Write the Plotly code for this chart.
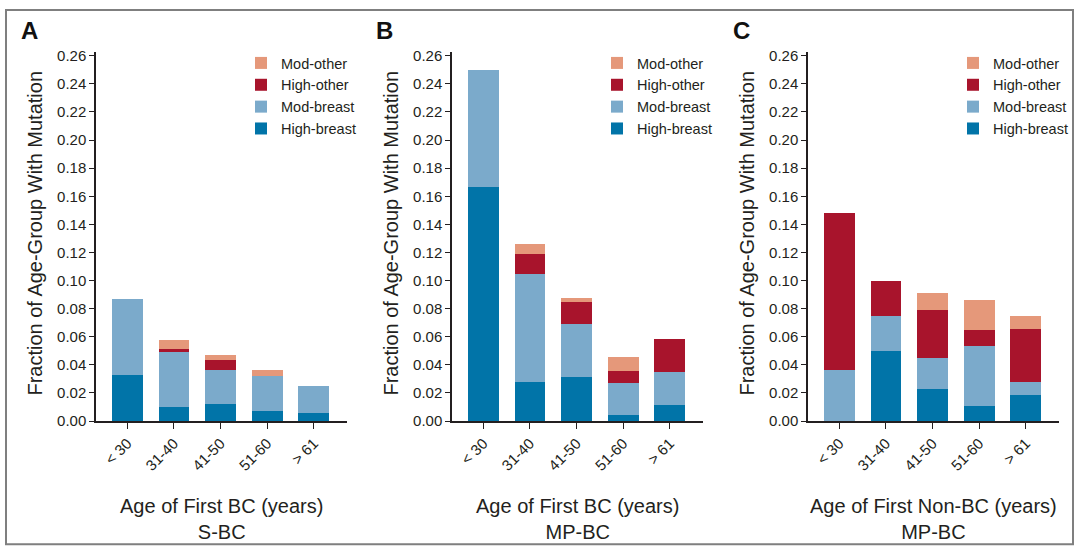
import plotly.graph_objects as go

# ---------------- data ----------------
age_groups = ["< 30", "31-40", "41-50", "51-60", "> 61"]
series_names = ["High-breast", "Mod-breast", "High-other", "Mod-other"]
series_colors = ["#0174A8", "#7BAACB", "#A8142C", "#E5987A"]

# Panel A: S-BC, age of first BC
a_high_breast = [0.0326, 0.0100, 0.0123, 0.0072, 0.0060]
a_mod_breast = [0.0546, 0.0393, 0.0244, 0.0249, 0.0191]
a_high_other = [0.0, 0.0023, 0.0068, 0.0, 0.0]
a_mod_other = [0.0, 0.0063, 0.0032, 0.0046, 0.0]

# Panel B: MP-BC, age of first BC
b_high_breast = [0.1667, 0.0278, 0.0313, 0.0042, 0.0116]
b_mod_breast = [0.0833, 0.0768, 0.0378, 0.0227, 0.0232]
b_high_other = [0.0, 0.0142, 0.0156, 0.0088, 0.0239]
b_mod_other = [0.0, 0.0072, 0.0030, 0.0098, 0.0]

# Panel C: MP-BC, age of first non-BC
c_high_breast = [0.0, 0.0499, 0.0225, 0.0104, 0.0186]
c_mod_breast = [0.0367, 0.0250, 0.0227, 0.0432, 0.0090]
c_high_other = [0.1115, 0.0251, 0.0342, 0.0109, 0.0378]
c_mod_other = [0.0, 0.0, 0.0118, 0.0216, 0.0093]

panel_letters = ["A", "B", "C"]
x_titles = ["Age of First BC (years)<br>S-BC",
            "Age of First BC (years)<br>MP-BC",
            "Age of First Non-BC (years)<br>MP-BC"]
y_title = "Fraction of Age-Group With Mutation"
y_tickvals = [0.0, 0.02, 0.04, 0.06, 0.08, 0.10, 0.12, 0.14, 0.16, 0.18, 0.20, 0.22, 0.24, 0.26]

panels = [
    [a_high_breast, a_mod_breast, a_high_other, a_mod_other],
    [b_high_breast, b_mod_breast, b_high_other, b_mod_other],
    [c_high_breast, c_mod_breast, c_high_other, c_mod_other],
]

# ---------------- layout geometry (pixels) ----------------
W, H = 1080, 559
FONT = "Liberation Sans, Arial, Helvetica, sans-serif"
axis_left_px = [96, 452, 808]
plot_w_px = 251
y0_px, ytop_px = 426, 48

fig = go.Figure()

for p, series in enumerate(panels):
    xa = "x" if p == 0 else f"x{p+1}"
    ya = "y" if p == 0 else f"y{p+1}"
    lg = "legend" if p == 0 else f"legend{p+1}"
    for name, color, vals in zip(series_names, series_colors, series):
        fig.add_trace(go.Bar(
            x=age_groups, y=vals, name=name,
            marker=dict(color=color, line=dict(width=0)),
            width=0.66, xaxis=xa, yaxis=ya, legend=lg,
            showlegend=True,
        ))

layout = dict(
    width=W, height=H,
    margin=dict(l=0, r=0, t=0, b=0),
    paper_bgcolor="white", plot_bgcolor="white",
    barmode="stack",
    font=dict(family=FONT, size=15, color="#231f20"),
    annotations=[], shapes=[],
)

ydom = [(H - y0_px) / H, (H - ytop_px) / H]
yrange = [0, 0.26 * (y0_px - ytop_px) / (y0_px - 52)]

for p in range(3):
    suffix = "" if p == 0 else str(p + 1)
    x0 = axis_left_px[p]
    layout["xaxis" + suffix] = dict(
        domain=[x0 / W, (x0 + plot_w_px) / W],
        anchor="y" + suffix,
        range=[-0.67, 4.71],
        showline=True, linecolor="#231f20", linewidth=1.5,
        ticks="outside", ticklen=6, tickwidth=1, tickcolor="#231f20",
        tickangle=-45, tickfont=dict(size=15),
        showgrid=False, zeroline=False, fixedrange=True,
    )
    layout["yaxis" + suffix] = dict(
        domain=ydom,
        anchor="x" + suffix,
        range=yrange,
        tickvals=y_tickvals,
        tickformat=".2f",
        showline=True, linecolor="#231f20", linewidth=1.5,
        ticks="outside", ticklen=5, tickwidth=1, tickcolor="#231f20",
        tickfont=dict(size=15),
        showgrid=False, zeroline=False, fixedrange=True,
    )
    legend_key = "legend" if p == 0 else f"legend{p+1}"
    layout[legend_key] = dict(
        x=(x0 + 145) / W, y=(H - 43) / H,
        xanchor="left", yanchor="top",
        traceorder="reversed",
        font=dict(size=14.5),
        bgcolor="rgba(0,0,0,0)",
        itemclick=False, itemdoubleclick=False,
    )
    # panel letter
    layout["annotations"].append(dict(
        text=f"<b>{panel_letters[p]}</b>", x=(x0 - 67) / W, y=(H - 26) / H,
        xref="paper", yref="paper", xanchor="center", yanchor="middle",
        showarrow=False, font=dict(size=24, color="#111")))
    # y title
    layout["annotations"].append(dict(
        text=y_title, x=(x0 - 61) / W, y=(H - 234) / H,
        xref="paper", yref="paper", xanchor="center", yanchor="middle",
        textangle=-90, showarrow=False, font=dict(size=20, color="#231f20")))
    # x title
    layout["annotations"].append(dict(
        text=x_titles[p], x=(x0 + plot_w_px / 2) / W, y=(H - 526) / H,
        xref="paper", yref="paper", xanchor="center", yanchor="middle",
        showarrow=False, font=dict(size=20, color="#231f20")))

# figure frame
layout["shapes"].append(dict(
    type="rect", xref="paper", yref="paper",
    x0=6 / W, x1=1073 / W, y0=(H - 552) / H, y1=(H - 5) / H,
    line=dict(color="#7f7f7f", width=2), fillcolor="rgba(0,0,0,0)"))

fig.update_layout(**layout)
fig.write_html("out.html")
